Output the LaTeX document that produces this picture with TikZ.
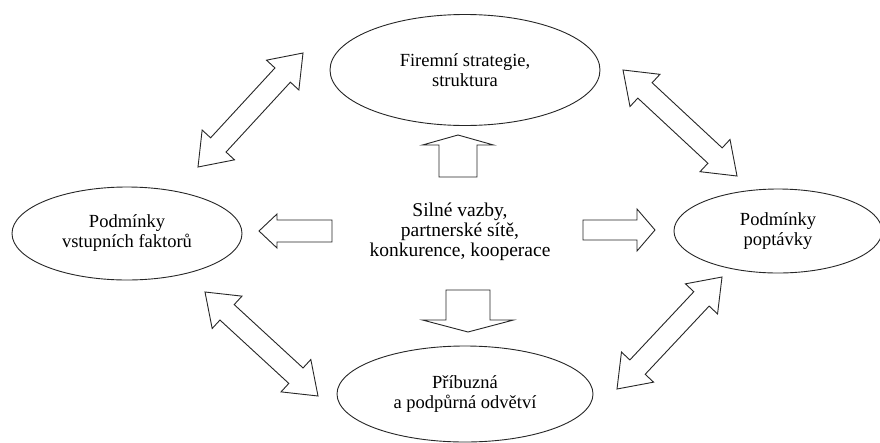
\documentclass[tikz,border=0pt]{standalone}
\usepackage{fontspec}
\setmainfont{Liberation Serif}
\usetikzlibrary{shapes.geometric,calc}
\tikzset{
  ell/.style={draw=black!85, line width=0.9pt, ellipse, inner sep=0pt, align=center,
    font=\fontsize{18.5}{20}\selectfont},
  midtext/.style={align=center, inner sep=0pt, font=\fontsize{19.5}{20}\selectfont},
  blk/.style={draw=black!85, line width=0.9pt, line join=miter, fill=white}
}
% double block arrow between named coordinates #1 and #2
% #3 shaft half width, #4 head half width, #5 head length
\newcommand\dblarr[5]{%
  \path ($(#1)!#5!(#2)$) coordinate (bA) ($(#2)!#5!(#1)$) coordinate (bB);
  \draw[blk] (#1) -- ($(bA)!#4!90:(#2)$) -- ($(bA)!#3!90:(#2)$)
    -- ($(bB)!#3!90:(#2)$) -- ($(bB)!#4!90:(#2)$) -- (#2)
    -- ($(bB)!#4!-90:(#2)$) -- ($(bB)!#3!-90:(#2)$)
    -- ($(bA)!#3!-90:(#2)$) -- ($(bA)!#4!-90:(#2)$) -- cycle;}
% single block arrow from tail #1 to tip #2
\newcommand\sglarr[5]{%
  \path ($(#2)!#5!(#1)$) coordinate (bC);
  \draw[blk] ($(#1)!#3!90:(#2)$) -- ($(bC)!#3!90:(#2)$) -- ($(bC)!#4!90:(#2)$)
    -- (#2) -- ($(bC)!#4!-90:(#2)$) -- ($(bC)!#3!-90:(#2)$)
    -- ($(#1)!#3!-90:(#2)$) -- cycle;}
\begin{document}
\begin{tikzpicture}[x=1pt,y=-1pt]
\fill[white] (0,0) rectangle (880,442);
\useasboundingbox (0,0) rectangle (880,442);

% ellipses
\node[ell, minimum width=270pt, minimum height=111pt] (firm) at (465,70) {Firemní strategie,\\struktura};
\node[ell, minimum width=230pt, minimum height=93pt] (vstup) at (127,233.5) {Podmínky\\vstupních faktorů};
\node[ell, minimum width=208pt, minimum height=84pt] (popt) at (778,231) {Podmínky\\poptávky};
\node[ell, minimum width=256pt, minimum height=96pt] (pribuz) at (465,394) {Příbuzná\\a podpůrná odvětví};

% centre text
\node[midtext] (mid) at (460,232) {Silné vazby,\\partnerské sítě,\\konkurence, kooperace};

% arrow end points
\coordinate (tlA) at (198,167); \coordinate (tlB) at (303,53);
\coordinate (trA) at (623,70);  \coordinate (trB) at (737,176);
\coordinate (blA) at (205,292); \coordinate (blB) at (318,396);
\coordinate (brA) at (722,277); \coordinate (brB) at (617,389);

\coordinate (upT) at (458,177); \coordinate (upP) at (458,135);
\coordinate (dnT) at (468,290); \coordinate (dnP) at (468,332);
\coordinate (lfT) at (332,231); \coordinate (lfP) at (259,231);
\coordinate (rtT) at (583,230); \coordinate (rtP) at (655,230);

% diagonal double arrows
\dblarr{tlA}{tlB}{10.5pt}{22pt}{30pt}
\dblarr{trA}{trB}{10.5pt}{22pt}{30pt}
\dblarr{blA}{blB}{10.5pt}{22pt}{30pt}
\dblarr{brA}{brB}{10.5pt}{22pt}{30pt}

% straight single arrows
\sglarr{upT}{upP}{19pt}{35.5pt}{10pt}
\sglarr{dnT}{dnP}{22pt}{45.5pt}{12pt}
\sglarr{lfT}{lfP}{11pt}{17pt}{18pt}
\sglarr{rtT}{rtP}{10pt}{21pt}{18pt}
\end{tikzpicture}
\end{document}
